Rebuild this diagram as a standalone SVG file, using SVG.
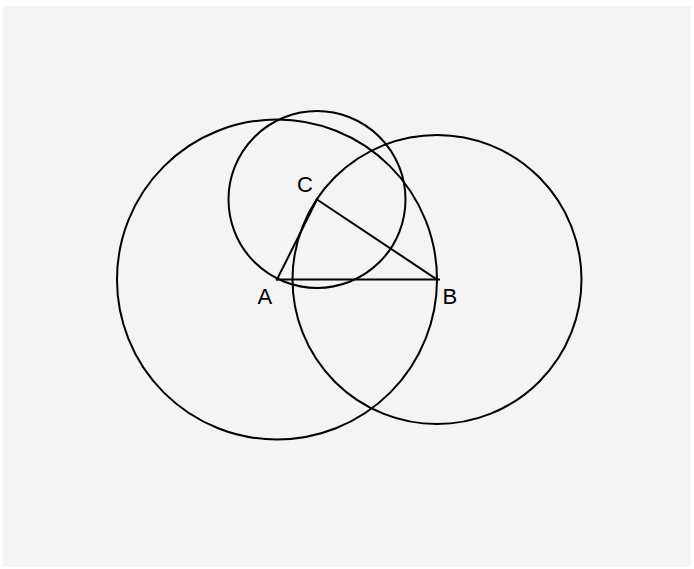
<svg xmlns="http://www.w3.org/2000/svg" width="694" height="569" viewBox="0 0 694 569">
<style>
.c{fill:none;stroke:#000;stroke-width:2}
.l{fill:none;stroke:#000;stroke-width:2;stroke-linecap:square}
.t{font-family:"Liberation Sans",Arial,sans-serif;font-size:22px;fill:#000}
</style>
<rect x="0" y="0" width="694" height="569" fill="#ffffff"/>
<rect x="3" y="6" width="688" height="561" fill="#f4f4f4"/>
<g id="circleA"><circle class="c" cx="277" cy="279.5" r="160"/></g>
<g id="circleB"><circle class="c" cx="437" cy="279.5" r="144.5"/></g>
<g id="circleC"><circle class="c" cx="317" cy="199.5" r="88.5"/></g>
<g id="connectors">
<line class="l" x1="277" y1="279.5" x2="439" y2="279.5"/>
<line class="l" x1="277" y1="279.5" x2="317" y2="199.5"/>
<line class="l" x1="317" y1="199.5" x2="437" y2="279.5"/>
</g>
<g id="labelA"><text class="t" x="257.5" y="304">A</text></g>
<g id="labelB"><text class="t" x="442.5" y="304">B</text></g>
<g id="labelC"><text class="t" x="297" y="191.5">C</text></g>
</svg>
